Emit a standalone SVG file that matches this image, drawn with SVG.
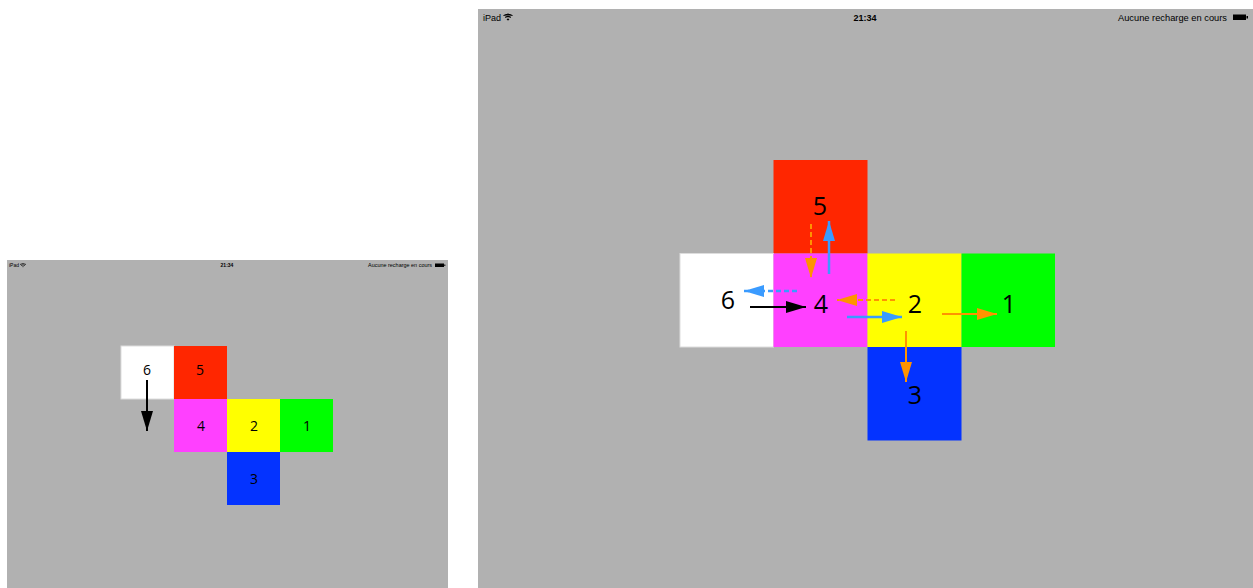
<svg xmlns="http://www.w3.org/2000/svg" width="1253" height="588" viewBox="0 0 1253 588">
<style>
.bg{fill:#b1b1b1}
.f6{fill:#ffffff;stroke:#dddddd;stroke-width:1}
.f5{fill:#ff2600}
.f4{fill:#ff40ff}
.f2{fill:#ffff00}
.f1{fill:#00ff00}
.f3{fill:#0433ff}
.big{font-family:"Open Sans","Liberation Sans",sans-serif;font-size:25px;fill:#000;text-anchor:middle}
.small{font-family:"Open Sans","Liberation Sans",sans-serif;font-size:14px;fill:#000;text-anchor:middle}
.sb{font-family:"Liberation Sans","Helvetica",sans-serif;fill:#000}
.or{stroke:#ff9300;stroke-width:2;fill:none}
.bl{stroke:#3a9bff;stroke-width:2.5;fill:none}
.bk{stroke:#000;stroke-width:2;fill:none}
.dash{stroke-dasharray:5,3}
</style>
<defs>
<marker id="hOr" markerUnits="userSpaceOnUse" markerWidth="20" markerHeight="12" refX="20" refY="6" orient="auto"><path d="M0,0 L20,6 L0,12 z" fill="#ff9300"/></marker>
<marker id="hBl" markerUnits="userSpaceOnUse" markerWidth="20" markerHeight="12" refX="20" refY="6" orient="auto"><path d="M0,0 L20,6 L0,12 z" fill="#3a9bff"/></marker>
<marker id="hBk" markerUnits="userSpaceOnUse" markerWidth="20" markerHeight="12" refX="20" refY="6" orient="auto"><path d="M0,0 L20,6 L0,12 z" fill="#000"/></marker>
</defs>
<rect width="1253" height="588" fill="#ffffff"/>

<!-- Left screen -->
<g id="screen-left">
<rect class="bg" x="7" y="260" width="441" height="328"/>
<text class="sb" x="9" y="267" font-size="5">iPad</text>
<path d="M20,264.5 q3,-2 6,0 M21,265.5 q2,-1.3 4,0 M22.5,266.5 l0.5,0.6 l0.5,-0.6" stroke="#000" stroke-width="0.7" fill="none"/>
<text class="sb" x="227" y="267" font-size="5" font-weight="bold" text-anchor="middle">21:34</text>
<text class="sb" x="368" y="267" font-size="5" textLength="64" lengthAdjust="spacingAndGlyphs">Aucune recharge en cours</text>
<rect x="435" y="263.5" width="9" height="3.5" fill="#000"/>
<rect x="444.3" y="264.5" width="1" height="1.5" fill="#000"/>
</g>
<g id="small-face-6"><rect class="f6" x="121" y="346" width="53" height="53"/><text class="small" x="147" y="375">6</text></g>
<g id="small-face-5"><rect class="f5" x="174" y="346" width="53" height="53"/><text class="small" x="200" y="375">5</text></g>
<g id="small-face-4"><rect class="f4" x="174" y="399" width="53" height="53"/><text class="small" x="201" y="431">4</text></g>
<g id="small-face-2"><rect class="f2" x="227" y="399" width="53" height="53"/><text class="small" x="254" y="431">2</text></g>
<g id="small-face-1"><rect class="f1" x="280" y="399" width="53" height="53"/><text class="small" x="307" y="431">1</text></g>
<g id="small-face-3"><rect class="f3" x="227" y="452" width="53" height="53"/><text class="small" x="254" y="484">3</text></g>

<!-- Right screen -->
<g id="screen-right">
<rect class="bg" x="478" y="9" width="775" height="579"/>
<text class="sb" x="483" y="20.5" font-size="9">iPad</text>
<path d="M503.5,15.5 q4.5,-3 9,0 M505,17.3 q3,-2 6,0 M507,19.2 l1,1 l1,-1 z" stroke="#000" stroke-width="1" fill="#000"/>
<text class="sb" x="865" y="20.5" font-size="9" font-weight="bold" text-anchor="middle">21:34</text>
<text class="sb" x="1118" y="20.5" font-size="9" textLength="109" lengthAdjust="spacingAndGlyphs">Aucune recharge en cours</text>
<rect x="1233" y="14.5" width="13" height="5.5" fill="#000"/>
<rect x="1246.5" y="16" width="1.5" height="2.5" fill="#000"/>
</g>
<g id="face-5"><rect class="f5" x="773.5" y="160" width="94" height="93.5"/><text class="big" x="820" y="215">5</text></g>
<g id="face-6"><rect class="f6" x="680" y="253.5" width="93.5" height="93.5"/><text class="big" x="728" y="309">6</text></g>
<g id="face-4"><rect class="f4" x="773.5" y="253.5" width="94" height="93.5"/><text class="big" x="821" y="313">4</text></g>
<g id="face-2"><rect class="f2" x="867.5" y="253.5" width="94" height="93.5"/><text class="big" x="915" y="313">2</text></g>
<g id="face-1"><rect class="f1" x="961.5" y="253.5" width="93.5" height="93.5"/><text class="big" x="1009" y="313">1</text></g>
<g id="face-3"><rect class="f3" x="867.5" y="347" width="94" height="93.5"/><text class="big" x="915" y="404">3</text></g>

<g id="connectors">
<line class="bk" x1="147" y1="380" x2="147" y2="431" marker-end="url(#hBk)"/>
<line class="bk" x1="750" y1="307" x2="806" y2="307" marker-end="url(#hBk)"/>
<line class="bl dash" x1="797" y1="291" x2="744" y2="291" marker-end="url(#hBl)"/>
<line class="or dash" x1="811" y1="224" x2="811" y2="278" marker-end="url(#hOr)"/>
<line class="bl" x1="829" y1="274" x2="829" y2="221" marker-end="url(#hBl)"/>
<line class="or dash" x1="895" y1="300" x2="837" y2="300" marker-end="url(#hOr)"/>
<line class="bl" x1="847" y1="317" x2="902" y2="317" marker-end="url(#hBl)"/>
<line class="or" x1="942" y1="314" x2="997" y2="314" marker-end="url(#hOr)"/>
<line class="or" x1="906" y1="331" x2="906" y2="382" marker-end="url(#hOr)"/>
</g>
</svg>
